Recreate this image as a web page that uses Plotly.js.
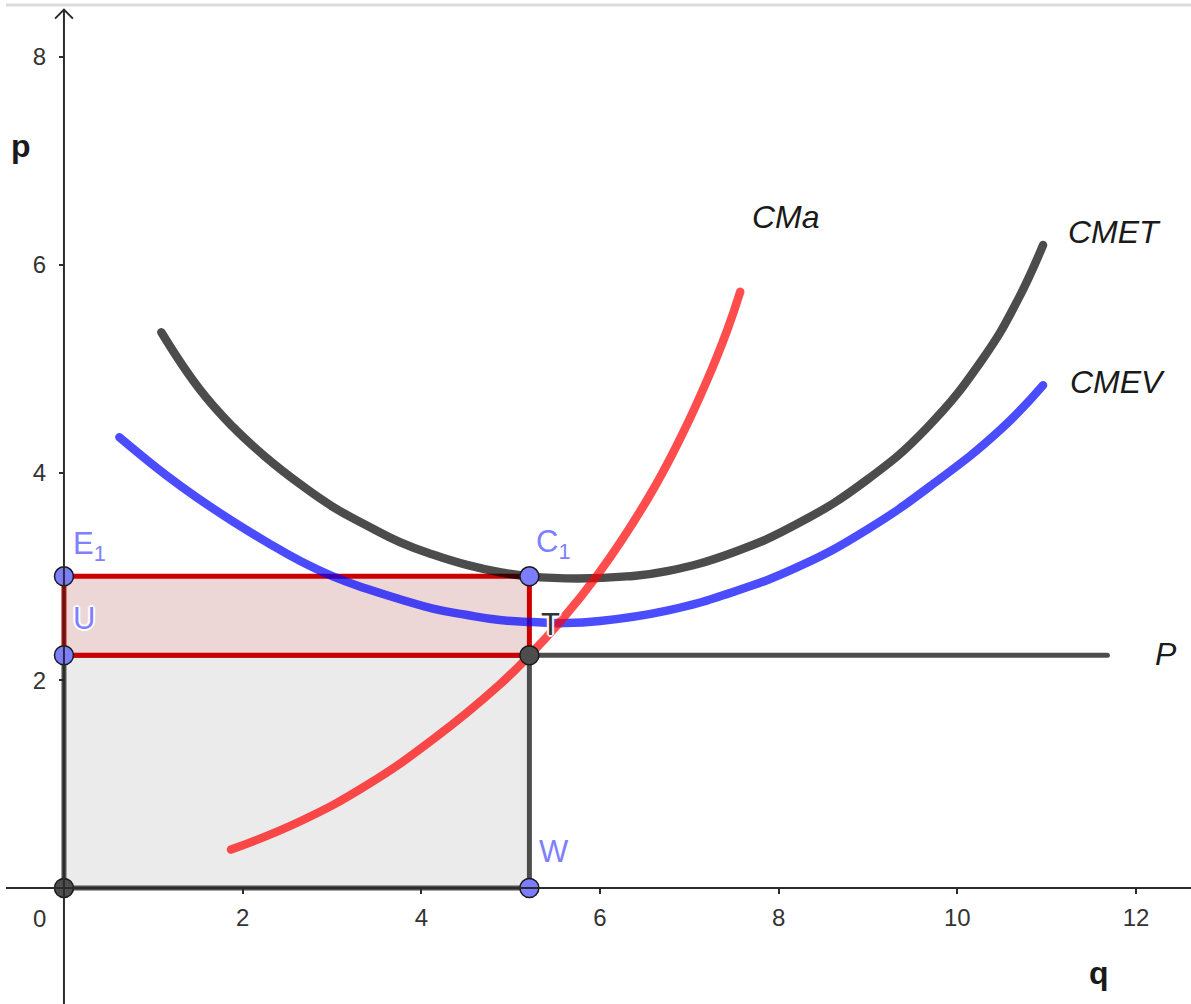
<!DOCTYPE html>
<html>
<head>
<meta charset="utf-8">
<script src="https://cdn.plot.ly/plotly-3.0.1.min.js"></script>
<style>
  html, body { margin: 0; padding: 0; background: #fff; }
  #chart { width: 1191px; height: 1004px; }
  .js-line { stroke-linecap: round; }
  .annotation[data-index="4"] text,
  .annotation[data-index="6"] text {
    text-shadow: 1px 1px 1px #fff, -1px -1px 1px #fff, 1px -1px 1px #fff, -1px 1px 1px #fff,
                 2px 0 1px #fff, -2px 0 1px #fff, 0 2px 1px #fff, 0 -2px 1px #fff !important;
  }
</style>
</head>
<body>
<div id="chart"></div>
<script>
// Short-run cost curves of a firm in perfect competition.

// Marginal cost (CMa)
const cmaQ = [1.87, 2.64, 3.39, 4.13, 4.88, 5.21, 5.53, 5.97, 6.53, 6.90, 7.20, 7.42, 7.57];
const cmaP = [0.37, 0.64, 0.99, 1.43, 1.96, 2.24, 2.54, 3.01, 3.74, 4.33, 4.89, 5.36, 5.74];

// Average total cost (CMET)
const cmetQ = [1.09, 1.52, 1.89, 2.27, 2.64, 3.01, 3.39, 3.76, 4.13, 4.51, 4.88, 5.21, 5.76, 6.30, 6.75, 7.49, 8.24, 8.99, 9.66, 10.29, 10.67, 10.96];
const cmetP = [5.35, 4.80, 4.44, 4.14, 3.89, 3.67, 3.49, 3.33, 3.21, 3.11, 3.04, 3.00, 2.98, 3.00, 3.05, 3.23, 3.52, 3.93, 4.43, 5.10, 5.65, 6.19];

// Average variable cost (CMEV)
const cmevQ = [0.62, 1.15, 1.52, 1.89, 2.27, 2.64, 3.01, 3.39, 3.76, 4.13, 4.50, 4.88, 5.25, 5.60, 6.00, 6.75, 7.49, 8.24, 8.99, 9.73, 10.48, 10.96];
const cmevP = [4.34, 3.97, 3.74, 3.53, 3.33, 3.15, 3.00, 2.88, 2.78, 2.69, 2.63, 2.58, 2.56, 2.55, 2.57, 2.67, 2.85, 3.10, 3.45, 3.89, 4.41, 4.84];

// Market price line P and the equilibrium quantity
const priceQ = [5.21, 11.68];
const priceP = [2.24, 2.24];

// Revenue rectangle (price x quantity) and loss rectangle (cost above price)
const revenueQ = [0, 5.21, 5.21, 0, 0];
const revenueP = [0, 0, 2.24, 2.24, 0];
const lossQ = [0, 5.21, 5.21, 0, 0];
const lossP = [2.24, 2.24, 3.00, 3.00, 2.24];

// Named points
const bluePtQ = [0, 0, 5.21, 5.21];      // E1, U, C1, W
const bluePtP = [3.00, 2.24, 3.00, 0];
const darkPtQ = [0, 5.21];               // origin, T
const darkPtP = [0, 2.24];

// Axis ticks
const qTicks = [2, 4, 6, 8, 10, 12];
const pTicks = [2, 4, 6, 8];

const X0 = -0.716, X1 = 12.616, Y0 = -1.117, Y1 = 8.549;
const ALPHA_RED = 'rgba(255,0,0,0.7)';
const ALPHA_BLUE = 'rgba(0,0,255,0.7)';
const ALPHA_BLACK = 'rgba(0,0,0,0.7)';
const FONT = 'Liberation Sans, Arial, sans-serif';

const traces = [
  { x: revenueQ, y: revenueP, mode: 'lines', fill: 'toself', fillcolor: '#ebebeb',
    line: { color: '#4d4d4d', width: 5 } },
  { x: lossQ, y: lossP, mode: 'lines', fill: 'toself', fillcolor: '#ecd6d6',
    line: { color: '#cc0000', width: 5 } },
  { x: priceQ, y: priceP, mode: 'lines', line: { color: '#4d4d4d', width: 5 } },
  { x: cmetQ, y: cmetP, mode: 'lines', line: { color: ALPHA_BLACK, width: 8.5, shape: 'spline', smoothing: 1.3 } },
  { x: cmevQ, y: cmevP, mode: 'lines', line: { color: ALPHA_BLUE, width: 8.5, shape: 'spline', smoothing: 1.3 } },
  { x: cmaQ, y: cmaP, mode: 'lines', line: { color: ALPHA_RED, width: 8.5, shape: 'spline', smoothing: 1.3 } },
  { x: darkPtQ, y: darkPtP, mode: 'markers',
    marker: { size: 19, color: '#4d4d4d', line: { color: '#1a1a1a', width: 1.5 } } },
  { x: bluePtQ, y: bluePtP, mode: 'markers',
    marker: { size: 19, color: '#7d7dff', line: { color: '#1a1a1a', width: 1.5 } } }
];
traces.forEach(t => { t.hoverinfo = 'skip'; t.showlegend = false; t.cliponaxis = false; });

const tickFont = { family: FONT, size: 24, color: '#333' };
const ptFont = { family: FONT, size: 31, color: '#7f7fff' };
const curveFont = { family: FONT, size: 32, color: '#1a1a1a' };

function label(text, x, y, font, xanchor, yanchor) {
  return { text, x, y, xref: 'x', yref: 'y', showarrow: false, font,
           xanchor: xanchor || 'left', yanchor: yanchor || 'middle' };
}

const annotations = [
  label('<b>p</b>', -0.476, 7.14, { family: FONT, size: 32, color: '#1a1a1a' }, 'center'),
  label('<b>q</b>', 11.586, -0.82, { family: FONT, size: 32, color: '#1a1a1a' }, 'center'),
  label('0', -0.269, -0.289, tickFont, 'center'),
  label('E<sub>1</sub>', 0.08, 3.50, ptFont, 'left', 'top'),
  label('U', 0.08, 2.59, ptFont),
  label('C<sub>1</sub>', 5.26, 3.52, ptFont, 'left', 'top'),
  label('T', 5.32, 2.54, Object.assign({}, ptFont, { color: '#333' })),
  label('W', 5.30, 0.35, ptFont),
  label('<i>CMa</i>', 7.68, 6.46, curveFont),
  label('<i>CMET</i>', 11.217, 6.315, curveFont),
  label('<i>CMEV</i>', 11.24, 4.87, curveFont),
  label('<i>P</i>', 12.19, 2.25, curveFont)
];

const axisColor = '#2b2b2b';
const shapes = [
  // frame line along the top of the view
  { type: 'line', xref: 'paper', yref: 'paper', x0: 0.005, x1: 1, y0: 0.995, y1: 0.995,
    line: { color: '#dcdcdc', width: 3 } },
  // horizontal axis
  { type: 'line', xref: 'paper', yref: 'y', x0: 0.005, x1: 1, y0: 0, y1: 0,
    line: { color: axisColor, width: 2 } },
  // vertical axis with arrow head
  { type: 'line', xref: 'x', yref: 'y', x0: 0, x1: 0, y0: Y0, y1: 8.45,
    line: { color: axisColor, width: 2 } },
  { type: 'path', xref: 'x', yref: 'y', path: 'M -0.1 8.37 L 0 8.457 L 0.1 8.37',
    line: { color: axisColor, width: 2 } }
];

const layout = {
  width: 1191, height: 1004,
  margin: { l: 0, r: 0, t: 0, b: 0, pad: 0 },
  paper_bgcolor: '#fff', plot_bgcolor: '#fff',
  showlegend: false,
  xaxis: {
    range: [X0, X1], showgrid: false, zeroline: false, showline: false,
    anchor: 'free', position: (0 - Y0) / (Y1 - Y0),
    tickmode: 'array', tickvals: qTicks, ticktext: qTicks.map(String),
    ticks: 'outside', ticklen: 5, tickwidth: 2, tickcolor: axisColor,
    tickfont: tickFont, ticklabelstandoff: 3, fixedrange: true
  },
  yaxis: {
    range: [Y0, Y1], showgrid: false, zeroline: false, showline: false,
    anchor: 'free', position: (0 - X0) / (X1 - X0),
    tickmode: 'array', tickvals: pTicks, ticktext: pTicks.map(String),
    ticks: 'outside', ticklen: 5, tickwidth: 2, tickcolor: axisColor,
    tickfont: tickFont, ticklabelstandoff: 8, fixedrange: true
  },
  shapes, annotations
};

Plotly.newPlot('chart', traces, layout, { staticPlot: true, displayModeBar: false });
</script>
</body>
</html>
